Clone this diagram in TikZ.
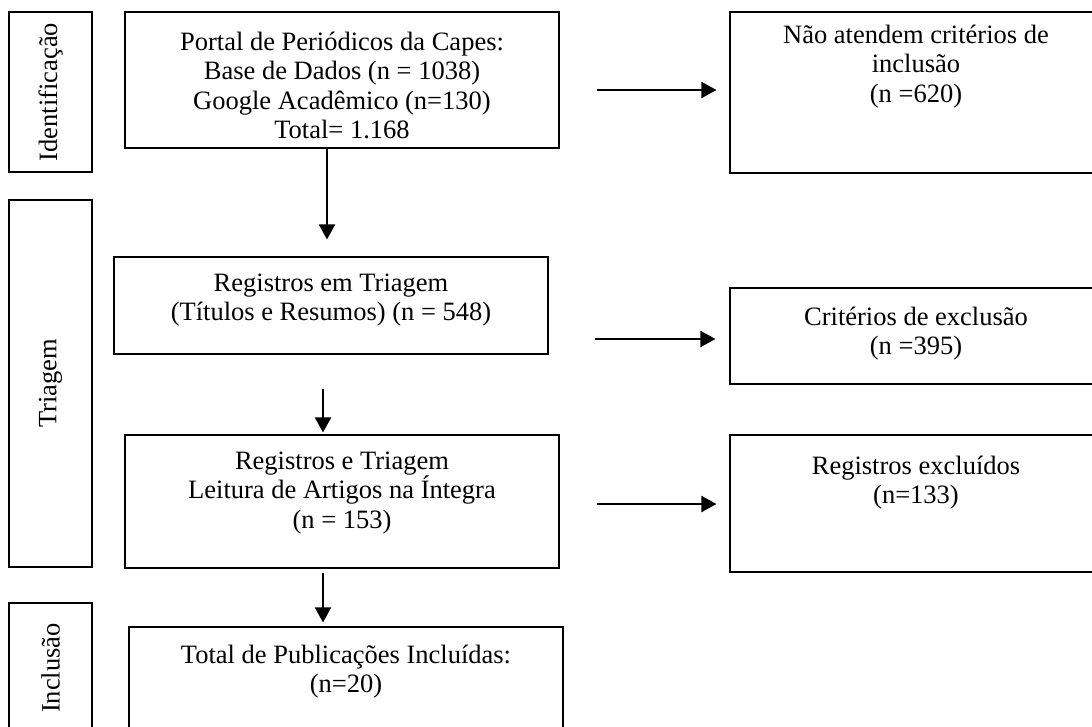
\documentclass[tikz,border=0pt]{standalone}
\usepackage{fontspec}
\setmainfont{Liberation Serif}
\usetikzlibrary{positioning, arrows.meta}
\tikzset{
>={Triangle[length=15pt, width=16pt]}, % filled heads as in the figure
box/.style={draw, line width=1.1pt, inner sep=0pt}, % every frame
phase/.style={box, rotate=90, minimum height=83pt}, % stage frames on the left
boxtext/.style={align=center, inner sep=0pt}, % text set from the top of a frame
flow/.style={->, line width=2pt}, % connectors
}

\begin{document}
\begin{tikzpicture}[
  x=1pt, y=1pt,
  every node/.style={font=\fontsize{26.5}{29.5}\selectfont}
]
  \useasboundingbox (0,0) rectangle (1092,-726);
  \clip (0,0) rectangle (1092,-726);

  % stages
  \node[phase, minimum width=160pt] (ident) at (50.5,-92) {Identificação};
  \node[phase, minimum width=367pt] (triagem) at (50.5,-383.5) {Triagem};
  \node[phase, minimum width=130pt] (inclusao) at (50.5,-668) {Inclusão};

  % main column
  \node[box, minimum width=434pt, minimum height=136pt] (portal) at (342,-80) {};
  \node[boxtext, below=20pt of portal.north] (portal-t) {Portal de Periódicos da Capes:\\Base de Dados (n = 1038)\\Google Acadêmico (n=130)\\Total= 1.168};
  \node[box, minimum width=434pt, minimum height=97pt] (regtri) at (331,-305.5) {};
  \node[boxtext, below=17pt of regtri.north] (regtri-t) {Registros em Triagem\\(Títulos e Resumos) (n = 548)};
  \node[box, minimum width=434pt, minimum height=133pt] (leitura) at (342,-501.5) {};
  \node[boxtext, below=17pt of leitura.north] (leitura-t) {Registros e Triagem\\Leitura de Artigos na Íntegra\\(n = 153)};
  \node[box, minimum width=434pt, minimum height=133pt] (total) at (346,-693.5) {};
  \node[boxtext, below=18pt of total.north] (total-t) {Total de Publicações Incluídas:\\(n=20)};

  % excluded records
  \node[box, minimum width=372pt, minimum height=161pt] (naoatende) at (916,-92.5) {};
  \node[boxtext, below=13pt of naoatende.north] (naoatende-t) {Não atendem critérios de\\inclusão\\(n =620)};
  \node[box, minimum width=372pt, minimum height=96pt] (exclusao) at (916,-336) {};
  \node[boxtext, below=19pt of exclusao.north] (exclusao-t) {Critérios de exclusão\\(n =395)};
  \node[box, minimum width=372pt, minimum height=137pt] (excluidos) at (916,-503.5) {};
  \node[boxtext, below=21pt of excluidos.north] (excluidos-t) {Registros excluídos\\(n=133)};

  % arrow ends
  \coordinate (v1a) at ([xshift=-15pt]portal.south);
  \coordinate (v1b) at ([xshift=-4pt, yshift=17pt]regtri.north);
  \coordinate (v2a) at ([xshift=-8pt, yshift=-34pt]regtri.south);
  \coordinate (v2b) at ([xshift=-19pt, yshift=2pt]leitura.north);
  \coordinate (v3a) at ([xshift=-19pt, yshift=-4pt]leitura.south);
  \coordinate (v3b) at ([xshift=-23pt, yshift=4pt]total.north);
  \coordinate (h1a) at ([xshift=-132pt, yshift=2.5pt]naoatende.west);
  \coordinate (h1b) at ([xshift=-13pt, yshift=2.5pt]naoatende.west);
  \coordinate (h2a) at ([xshift=-134pt, yshift=-3pt]exclusao.west);
  \coordinate (h2b) at ([xshift=-14pt, yshift=-3pt]exclusao.west);
  \coordinate (h3a) at ([xshift=-132pt, yshift=-0.5pt]excluidos.west);
  \coordinate (h3b) at ([xshift=-13pt, yshift=-0.5pt]excluidos.west);

  \draw[flow] (v1a) -- (v1b);
  \draw[flow] (v2a) -- (v2b);
  \draw[flow] (v3a) -- (v3b);
  \draw[flow] (h1a) -- (h1b);
  \draw[flow] (h2a) -- (h2b);
  \draw[flow] (h3a) -- (h3b);
\end{tikzpicture}
\end{document}
